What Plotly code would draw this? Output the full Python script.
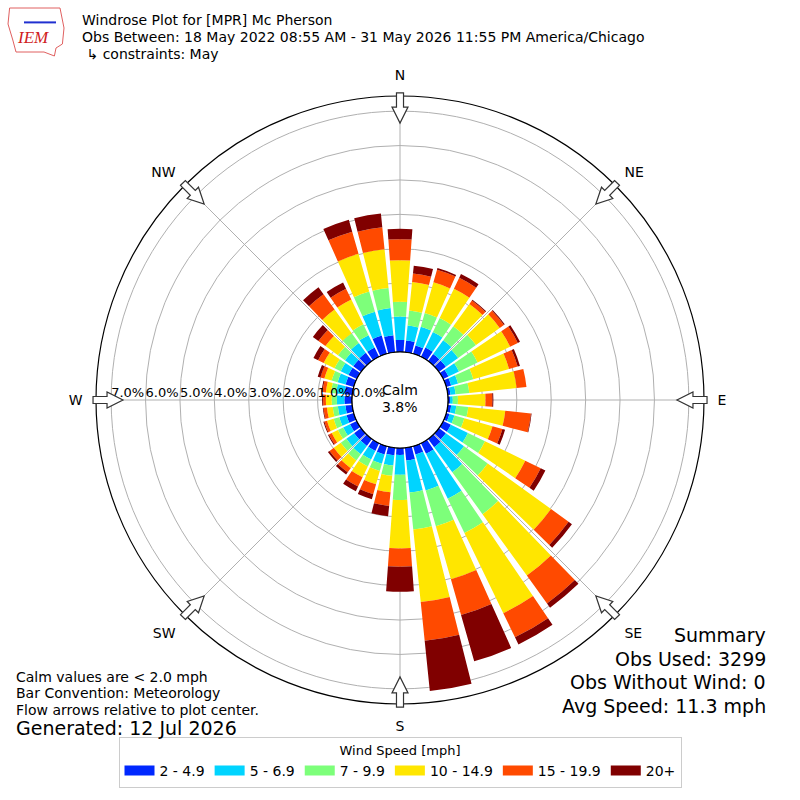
import math
import plotly.graph_objects as go

# wind direction bins (deg, centre of bin) and percent of obs per speed class
directions = list(range(0, 360, 10))

speed_labels = ['2 - 4.9', '5 - 6.9', '7 - 9.9', '10 - 14.9', '15 - 19.9', '20+']
speed_colors = ['#0028ff', '#00d4ff', '#7dff7a', '#ffe600', '#ff4a00', '#800000']

pct_2_5 = [0.35, 0.34, 0.25, 0.30, 0.25, 0.25, 0.17, 0.15, 0.08, 0.06, 0.10, 0.10,
           0.25, 0.25, 0.30, 0.34, 0.25, 0.37, 0.20, 0.22, 0.25, 0.25, 0.25, 0.25,
           0.22, 0.22, 0.20, 0.22, 0.23, 0.25, 0.27, 0.28, 0.30, 0.30, 0.55, 0.50]
pct_5_7 = [0.68, 0.44, 0.57, 0.50, 0.50, 0.44, 0.34, 0.21, 0.15, 0.08, 0.15, 0.15,
           0.55, 0.65, 0.90, 1.45, 1.09, 0.94, 0.58, 0.30, 0.28, 0.28, 0.30, 0.28,
           0.22, 0.22, 0.22, 0.22, 0.24, 0.24, 0.25, 0.30, 0.35, 0.40, 0.72, 0.79]
pct_7_10 = [0.43, 0.44, 0.41, 0.45, 0.50, 0.64, 0.60, 0.46, 0.40, 0.15, 0.35, 0.30,
            0.55, 0.85, 1.50, 1.11, 1.08, 1.08, 0.73, 0.30, 0.22, 0.22, 0.22, 0.20,
            0.17, 0.17, 0.15, 0.15, 0.15, 0.18, 0.20, 0.25, 0.35, 0.35, 0.61, 0.59]
pct_10_15 = [1.21, 0.83, 0.93, 0.95, 0.80, 0.85, 1.05, 1.08, 1.38, 0.80, 1.08, 0.85,
             1.30, 2.27, 2.20, 2.59, 1.60, 2.12, 1.41, 0.48, 0.40, 0.35, 0.28, 0.25,
             0.20, 0.20, 0.17, 0.17, 0.15, 0.22, 0.35, 0.45, 0.85, 0.80, 1.14, 1.13]
pct_15_20 = [0.61, 0.25, 0.38, 0.35, 0.12, 0.15, 0.25, 0.26, 0.29, 0.20, 0.75, 0.30,
             0.50, 0.63, 1.00, 0.78, 1.08, 1.13, 0.53, 0.40, 0.30, 0.30, 0.15, 0.15,
             0.09, 0.08, 0.10, 0.08, 0.10, 0.12, 0.18, 0.25, 0.55, 0.35, 0.67, 0.64]
pct_20_up = [0.30, 0.23, 0.05, 0.12, 0.03, 0.03, 0.07, 0.07, 0.00, 0.03, 0.02, 0.08,
             0.15, 0.12, 0.15, 0.23, 1.40, 1.47, 0.73, 0.30, 0.15, 0.15, 0.08, 0.06,
             0.03, 0.03, 0.02, 0.03, 0.03, 0.08, 0.15, 0.20, 0.25, 0.20, 0.36, 0.40]
speed_pcts = [pct_2_5, pct_5_7, pct_7_10, pct_10_15, pct_15_20, pct_20_up]

compass_angles = [0, 45, 90, 135, 180, 225, 270, 315]
compass_labels = ['N', 'NE', 'E', 'SE', 'S', 'SW', 'W', 'NW']
ring_vals = [0, 1, 2, 3, 4, 5, 6, 7]
ring_text = ['%.1f%%' % v for v in ring_vals]

calm_pct = 3.8
FONT = 'DejaVu Sans'

fig = go.Figure()

for label, color, vals in zip(speed_labels, speed_colors, speed_pcts):
    fig.add_trace(go.Barpolar(
        r=vals, theta=directions, width=8.3, name=label, showlegend=False,
        marker=dict(color=color, line=dict(width=0)),
    ))
# legend-only entries so the key shows wide colour patches
for label, color in zip(speed_labels, speed_colors):
    fig.add_trace(go.Scatterpolar(
        r=[None], theta=[None], mode='lines', name=label,
        line=dict(color=color, width=12)))

# black edge of the calm circle
fig.add_trace(go.Scatterpolar(
    r=[0] * 73, theta=list(range(0, 361, 5)), mode='lines',
    line=dict(color='black', width=1.2), showlegend=False, hoverinfo='skip'))

# radial labels along the west line
fig.add_trace(go.Scatterpolar(
    r=ring_vals, theta=[270] * len(ring_vals), mode='text', text=ring_text,
    textposition='top right', textfont=dict(family=FONT, size=13, color='black'),
    showlegend=False, hoverinfo='skip'))

fig.update_layout(
    width=800, height=800,
    margin=dict(l=0, r=0, t=0, b=0),
    paper_bgcolor='white',
    font=dict(family=FONT, size=13, color='black'),
    polar=dict(
        domain=dict(x=[96 / 800, 704 / 800], y=[96 / 800, 704 / 800]),
        hole=48 / 304,
        bgcolor='white',
        barmode='stack',
        radialaxis=dict(range=[0, 7.44], tickvals=ring_vals, showticklabels=False,
                        ticks='', showline=False, gridcolor='#b0b0b0', gridwidth=1,
                        angle=180),
        angularaxis=dict(rotation=90, direction='clockwise', tickvals=compass_angles,
                         ticktext=compass_labels, showline=True, linecolor='black',
                         linewidth=1.2, gridcolor='#b0b0b0', ticks='outside',
                         ticklen=10, tickcolor='rgba(0,0,0,0)',
                         tickfont=dict(family=FONT, size=14)),
    ),
    legend=dict(orientation='h', x=0.5, xanchor='center', y=1 - 788 / 800, yanchor='bottom',
                bordercolor='#cccccc', borderwidth=1, bgcolor='white',
                font=dict(family=FONT, size=14),
                title=dict(text='Wind Speed [mph]', side='top center',
                           font=dict(family=FONT, size=13))),
)

# flow arrows on the outer circle, pointing at the centre
cx, cy = 400, 400
for b in compass_angles:
    rad = math.radians(b)
    pts = [(307, -3.5), (293, -3.5), (293, -8), (277, 0), (293, 8), (293, 3.5), (307, 3.5)]
    path = ''
    for i, (R, w) in enumerate(pts):
        px = cx + R * math.sin(rad) + w * math.cos(rad)
        py = cy - R * math.cos(rad) + w * math.sin(rad)
        path += ('M' if i == 0 else 'L') + '%.4f,%.4f ' % (px / 800, 1 - py / 800)
    fig.add_shape(type='path', path=path + 'Z', xref='paper', yref='paper',
                  fillcolor='white', line=dict(color='#333333', width=1.2), layer='above')


def note(x, y, text, size=13, anchor='left', **kw):
    fig.add_annotation(x=x / 800, y=1 - y / 800, xref='paper', yref='paper', text=text,
                       showarrow=False, xanchor=anchor, yanchor='middle',
                       font=dict(family=kw.get('family', FONT), size=size,
                                 color=kw.get('color', 'black')))


note(80, 20, 'Windrose Plot for [MPR] Mc Pherson', 14)
note(80, 37, 'Obs Between: 18 May 2022 08:55 AM - 31 May 2026 11:55 PM America/Chicago', 14)
note(80, 54, ' ↳ constraints: May', 14)

note(400, 390, 'Calm', 14, anchor='center')
note(400, 407, '%.1f%%' % calm_pct, 14, anchor='center')

note(14, 677, 'Calm values are &lt; 2.0 mph', 14)
note(14, 693, 'Bar Convention: Meteorology', 14)
note(14, 710, 'Flow arrows relative to plot center.', 14)
note(14, 728, 'Generated: 12 Jul 2026', 19)

note(768, 635, 'Summary', 19, anchor='right')
note(768, 659, 'Obs Used: 3299', 19, anchor='right')
note(768, 682, 'Obs Without Wind: 0', 19, anchor='right')
note(768, 706, 'Avg Speed: 11.3 mph', 19, anchor='right')

# IEM logo (rough)
fig.add_shape(type='path', xref='paper', yref='paper',
              path='M0.012,0.99 L0.075,0.99 L0.08,0.965 L0.078,0.945 L0.07,0.94 L0.068,0.93 '
                   'L0.055,0.935 L0.02,0.935 L0.016,0.95 L0.01,0.97 Z',
              line=dict(color='#e06060', width=1), fillcolor='rgba(0,0,0,0)')
fig.add_shape(type='line', xref='paper', yref='paper', x0=0.03, x1=0.07, y0=0.972, y1=0.972,
              line=dict(color='#2030d0', width=2))
note(33, 38, '<i>IEM</i>', 17, anchor='center', family='Liberation Serif', color='#d02020')

fig.write_html('out.html', config={'displayModeBar': False},
               post_script="document.body.style.margin='0px';")
